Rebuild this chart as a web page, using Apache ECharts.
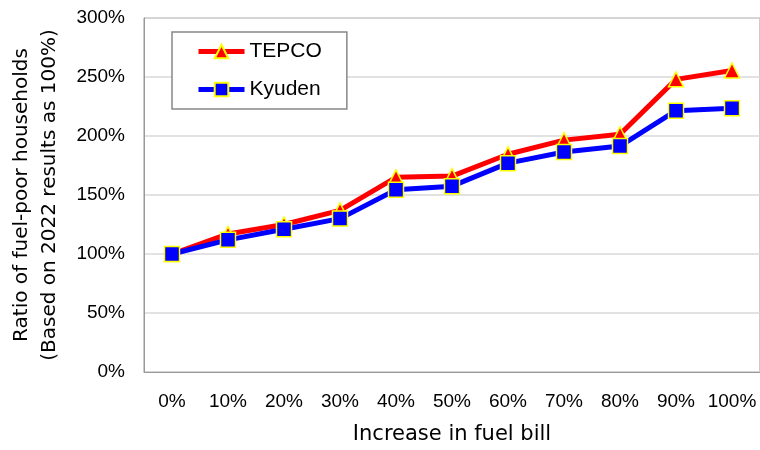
<!DOCTYPE html>
<html><head><meta charset="utf-8">
<script src="https://cdn.jsdelivr.net/npm/echarts@6/dist/echarts.min.js"></script>
<style>html,body{margin:0;padding:0;background:#fff}#c{width:760px;height:450px}</style>
</head><body><div id="c"></div>
<script>
const categories = ['0%','10%','20%','30%','40%','50%','60%','70%','80%','90%','100%'];
const tepco = [100, 117, 125, 137, 165, 166, 184.5, 196.5, 201.5, 248, 255.5];
const kyuden = [100, 112, 121, 130, 154.5, 157.5, 177, 186.5, 191.5, 221.5, 223.5];
const yTicks = [0, 50, 100, 150, 200, 250, 300];

const font = 'Liberation Sans';
const nameFont = 'DejaVu Sans';
const chart = echarts.init(document.getElementById('c'));
chart.setOption({
  animation: false,
  textStyle: { fontFamily: font },
  grid: { left: 144, right: -1, top: 18, bottom: 76, show: true, borderColor: '#999', borderWidth: 1, backgroundColor: 'transparent' },
  legend: {
    orient: 'vertical', left: 172, top: 32,
    padding: [9, 25, 9, 24], itemGap: 17,
    itemWidth: 46, itemHeight: 17,
    backgroundColor: '#fff', borderColor: '#888', borderWidth: 1.5,
    lineStyle: { width: 5 },
    textStyle: { fontSize: 21, color: '#000', fontFamily: font },
    data: ['TEPCO', 'Kyuden']
  },
  xAxis: {
    type: 'category', data: categories, boundaryGap: true,
    name: 'Increase in fuel bill', nameLocation: 'middle', nameGap: 52,
    nameTextStyle: { fontSize: 21, color: '#000', fontFamily: nameFont },
    axisLine: { lineStyle: { color: '#999' } },
    axisTick: { show: false },
    axisLabel: { fontSize: 19, color: '#000', margin: 20, interval: 0 }
  },
  yAxis: {
    type: 'value', min: yTicks[0], max: yTicks[yTicks.length - 1], interval: 50,
    name: 'Ratio of fuel-poor households\n(Based on 2022 results as 100%)',
    nameLocation: 'middle', nameGap: 80,
    nameTextStyle: { fontSize: 20, color: '#000', lineHeight: 28, fontFamily: nameFont },
    axisLine: { show: true, lineStyle: { color: '#999' } },
    axisTick: { show: false },
    axisLabel: { fontSize: 19, color: '#000', margin: 19, formatter: v => v + '%' },
    splitLine: { lineStyle: { color: '#d9d9d9', width: 1.5 } }
  },
  series: [
    {
      name: 'TEPCO', type: 'line', data: tepco,
      lineStyle: { color: '#ff0000', width: 5 },
      itemStyle: { color: '#ff0000', borderColor: '#ffff00', borderWidth: 1.5 },
      symbol: 'triangle', symbolSize: 15, z: 2
    },
    {
      name: 'Kyuden', type: 'line', data: kyuden,
      lineStyle: { color: '#0000ff', width: 5 },
      itemStyle: { color: '#0000ff', borderColor: '#ffff00', borderWidth: 1.5 },
      symbol: 'rect', symbolSize: 15, z: 3
    }
  ]
});
</script></body></html>
